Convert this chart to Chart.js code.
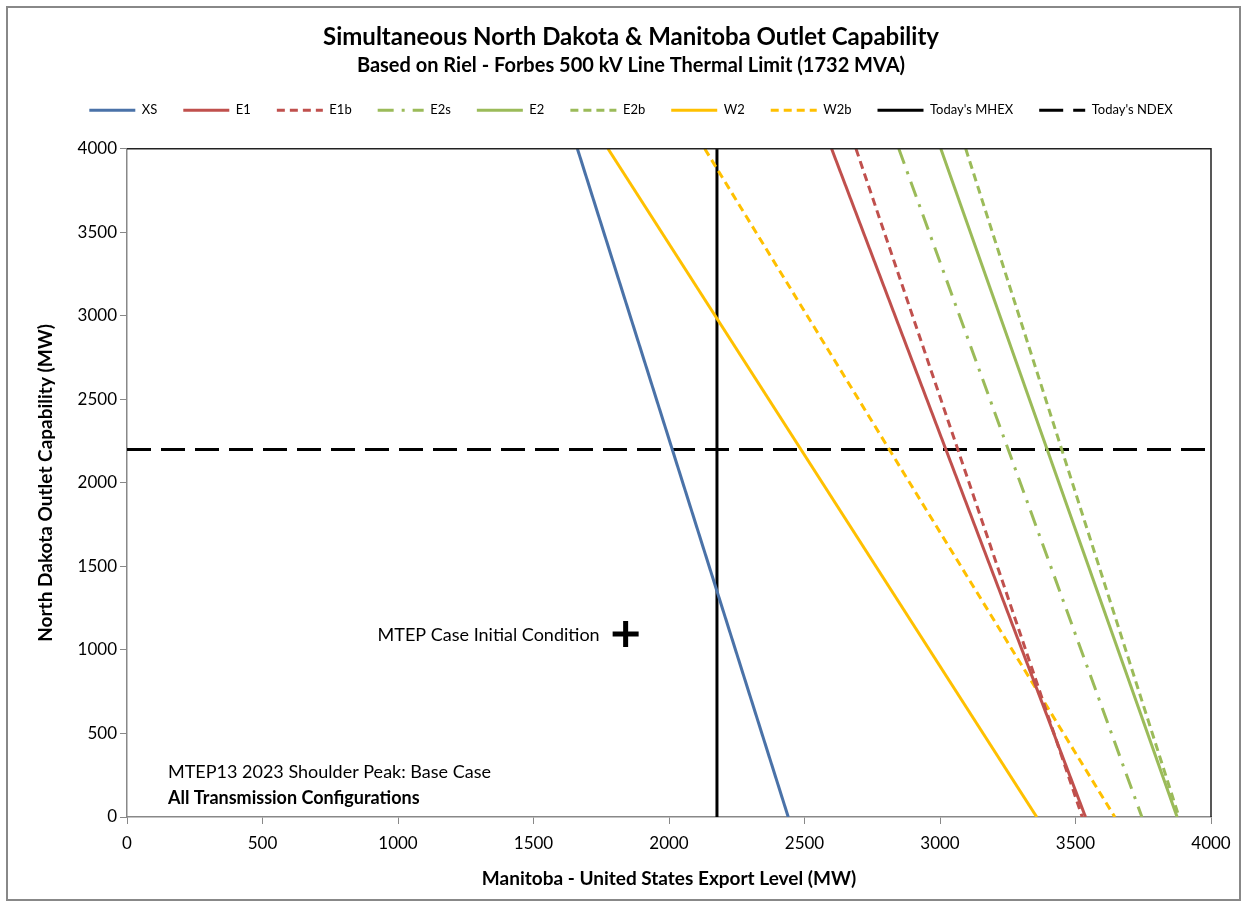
<!DOCTYPE html>
<html>
<head>
<meta charset="utf-8">
<script src="https://cdn.jsdelivr.net/npm/chart.js@4/dist/chart.umd.min.js"></script>
<style>
  html, body { margin: 0; padding: 0; background: #fff; }
  #wrap { width: 1247px; height: 907px; position: relative; }
</style>
</head>
<body>
<div id="wrap"><canvas id="chart"></canvas></div>
<script>
// each configuration line: [x at ND=4000, x at ND=0]
const ND_ENDS = [4000, 0];
const XS  = [1662, 2440];
const E1  = [2600, 3537];
const E1b = [2690, 3525];
const E2s = [2848, 3745];
const E2  = [3003, 3875];
const E2b = [3095, 3882];
const W2  = [1775, 3357];
const W2b = [2132, 3645];
const MHEX = 2177;
const NDEX = 2200;
const INITIAL = { x: 1840, y: 1095 };
const X_TICKS = [0, 500, 1000, 1500, 2000, 2500, 3000, 3500, 4000];

const FONT = "Lato, 'Open Sans', sans-serif";

const pts = (xs, ys) => xs.map((x, i) => ({ x: x, y: ys[i] }));

const series = [
  { label: 'XS',  xs: XS,  color: '#4a72a8', dash: [] },
  { label: 'E1',  xs: E1,  color: '#c0504d', dash: [] },
  { label: 'E1b', xs: E1b, color: '#c0504d', dash: [8, 5] },
  { label: 'E2s', xs: E2s, color: '#9bbb59', dash: [16, 8, 3, 8] },
  { label: 'E2',  xs: E2,  color: '#9bbb59', dash: [] },
  { label: 'E2b', xs: E2b, color: '#9bbb59', dash: [8, 5] },
  { label: 'W2',  xs: W2,  color: '#ffc000', dash: [] },
  { label: 'W2b', xs: W2b, color: '#ffc000', dash: [8, 5] }
];

const datasets = series.map(s => ({
  label: s.label,
  data: pts(s.xs, ND_ENDS),
  borderColor: s.color,
  backgroundColor: s.color,
  borderDash: s.dash,
  borderWidth: 3,
  pointRadius: 0,
  showLine: true
}));

datasets.push({
  label: "Today's MHEX",
  data: pts([MHEX, MHEX], ND_ENDS),
  borderColor: '#000', backgroundColor: '#000',
  borderWidth: 3, pointRadius: 0, showLine: true, borderDash: []
});
datasets.push({
  label: "Today's NDEX",
  data: pts([0, 4000], [NDEX, NDEX]),
  borderColor: '#000', backgroundColor: '#000',
  borderWidth: 3, pointRadius: 0, showLine: true, borderDash: [24, 10]
});
datasets.push({
  label: 'initial',
  data: [INITIAL],
  borderColor: '#000', backgroundColor: '#000',
  pointStyle: 'cross', pointRadius: 13, borderWidth: 5,
  showLine: false
});

const extras = {
  id: 'extras',
  beforeLayout(chart) {
    // extra room under the legend row
    const lg = chart.legend;
    if (lg && !lg._padded) {
      const fit = lg.fit;
      lg.fit = function () { fit.call(this); this.height += 22; };
      lg._padded = true;
    }
  },
  afterLayout(chart) {
    // centre the title block on the whole picture, not on the chart area
    chart.boxes.forEach(b => {
      if (b.position === 'top') { b.left = 15; b.right = 1247; b.width = 1232; }
    });
  },
  beforeDraw(chart) {
    const ctx = chart.ctx;
    ctx.save();
    ctx.strokeStyle = '#888';
    ctx.lineWidth = 2;
    ctx.strokeRect(7, 7, 1233, 893);
    ctx.restore();
  },
  afterDatasetsDraw(chart) {
    const { ctx, chartArea: a, scales } = chart;
    ctx.save();
    // plot area border top/right
    ctx.strokeStyle = '#222';
    ctx.lineWidth = 1.5;
    ctx.beginPath();
    ctx.moveTo(a.left, a.top);
    ctx.lineTo(a.right, a.top);
    ctx.lineTo(a.right, a.bottom);
    ctx.stroke();
    // annotation
    ctx.fillStyle = '#000';
    ctx.font = '18px ' + FONT;
    ctx.textBaseline = 'middle';
    ctx.textAlign = 'right';
    ctx.fillText('MTEP Case Initial Condition',
      scales.x.getPixelForValue(INITIAL.x) - 26, scales.y.getPixelForValue(INITIAL.y) + 1);
    ctx.textAlign = 'left';
    ctx.fillText('MTEP13 2023 Shoulder Peak: Base Case', a.left + 41, a.bottom - 45);
    ctx.font = 'bold 18px ' + FONT;
    ctx.fillText('All Transmission Configurations', a.left + 41, a.bottom - 19);
    ctx.restore();
  }
};

new Chart(document.getElementById('chart'), {
  type: 'scatter',
  data: { datasets: datasets },
  options: {
    responsive: true,
    maintainAspectRatio: false,
    animation: false,
    layout: { padding: { left: 30, right: 36, top: 0, bottom: 13 } },
    plugins: {
      title: {
        display: true,
        text: 'Simultaneous North Dakota & Manitoba Outlet Capability',
        color: '#000',
        font: { family: FONT, size: 24, weight: 'bold' },
        padding: { top: 23, bottom: 2 }
      },
      subtitle: {
        display: true,
        text: 'Based on Riel - Forbes 500 kV Line Thermal Limit (1732 MVA)',
        color: '#000',
        font: { family: FONT, size: 20, weight: 'bold' },
        padding: { bottom: 0 }
      },
      legend: {
        display: true,
        labels: {
          color: '#000',
          font: { family: FONT, size: 13 },
          usePointStyle: true,
          pointStyle: 'line',
          pointStyleWidth: 46,
          padding: 26,
          filter: item => item.text !== 'initial',
          generateLabels(chart) {
            return chart.data.datasets.map((ds, i) => ({
              text: ds.label,
              strokeStyle: ds.borderColor,
              fillStyle: ds.borderColor,
              lineWidth: 3,
              lineDash: ds.borderDash,
              pointStyle: 'line',
              fontColor: '#000',
              hidden: false,
              datasetIndex: i
            }));
          }
        }
      },
      tooltip: { enabled: false }
    },
    scales: {
      x: {
        type: 'linear',
        min: 0, max: 4000,
        afterBuildTicks: s => { s.ticks = X_TICKS.map(v => ({ value: v })); },
        afterFit: s => { s.height = 77; },
        border: { color: '#888', width: 1.5 },
        grid: { drawOnChartArea: false, drawTicks: true, tickLength: 7, color: '#888' },
        ticks: { color: '#000', font: { family: FONT, size: 17 }, padding: 9, maxRotation: 0,
                 callback: v => String(v) },
        title: {
          display: true,
          text: 'Manitoba - United States Export Level (MW)',
          color: '#000',
          font: { family: FONT, size: 19, weight: 'bold' },
          padding: { top: 4, bottom: 4 }
        }
      },
      y: {
        type: 'linear',
        min: 0, max: 4000,
        afterFit: s => { s.width = 97; },
        border: { color: '#888', width: 1.5 },
        grid: { drawOnChartArea: false, drawTicks: true, tickLength: 7, color: '#888' },
        ticks: { stepSize: 500, color: '#000', font: { family: FONT, size: 17 }, padding: 3,
                 callback: v => String(v) },
        title: {
          display: true,
          text: 'North Dakota Outlet Capability (MW)',
          color: '#000',
          font: { family: FONT, size: 19, weight: 'bold' },
          padding: { top: 4, bottom: 4 }
        }
      }
    }
  },
  plugins: [extras]
});
</script>
</body>
</html>
